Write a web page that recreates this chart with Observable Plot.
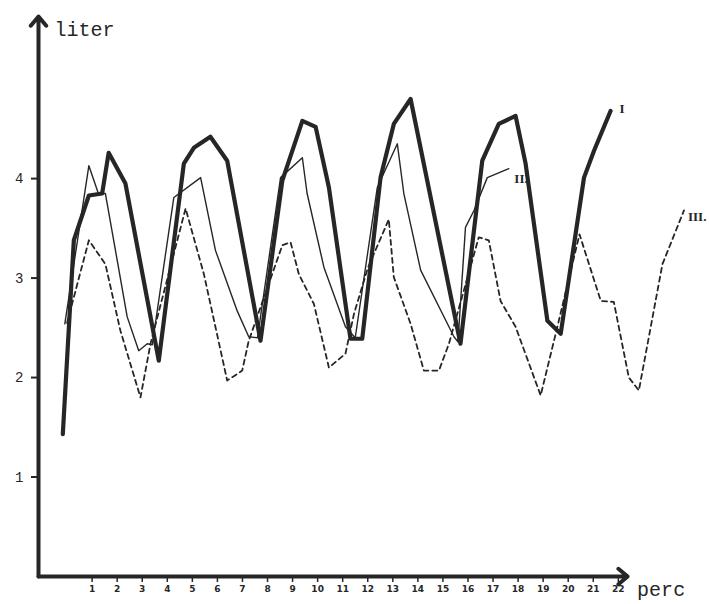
<!DOCTYPE html>
<html>
<head>
<meta charset="utf-8">
<script src="https://cdn.jsdelivr.net/npm/d3@7"></script>
<script src="https://cdn.jsdelivr.net/npm/@observablehq/plot@0.6"></script>
<style>
  html, body { margin: 0; padding: 0; background: #ffffff; }
  #chart svg { display: block; }
</style>
</head>
<body>
<div id="chart"></div>
<script>
// Series I (thick solid line): minutes and liters
const minutesI = [-0.17, 0.27, 0.87, 1.40, 1.66, 2.33, 3.66, 4.66, 5.06, 5.72, 6.39, 7.72, 8.59, 9.39, 9.92, 10.45, 11.31, 11.78, 12.51, 13.04, 13.71, 15.70, 16.57, 17.23, 17.90, 18.30, 19.17, 19.70, 20.63, 21.03, 21.69];
const litersI  = [1.43, 3.38, 3.83, 3.85, 4.26, 3.95, 2.17, 4.15, 4.31, 4.42, 4.18, 2.37, 3.98, 4.58, 4.52, 3.91, 2.39, 2.39, 4.01, 4.55, 4.80, 2.34, 4.18, 4.55, 4.63, 4.15, 2.57, 2.44, 4.01, 4.28, 4.68];

// Series II (thin solid line)
const minutesII = [-0.09, 0.87, 1.25, 1.53, 2.40, 2.86, 3.20, 3.40, 4.26, 5.33, 5.92, 6.79, 7.25, 7.60, 8.52, 9.39, 9.58, 10.25, 11.11, 11.50, 12.38, 13.18, 13.44, 14.11, 15.44, 15.60, 15.90, 16.24, 16.77, 17.63];
const litersII  = [2.54, 4.13, 3.85, 3.85, 2.61, 2.27, 2.34, 2.33, 3.81, 4.01, 3.28, 2.67, 2.41, 2.40, 4.01, 4.21, 3.85, 3.11, 2.51, 2.40, 3.91, 4.35, 3.85, 3.08, 2.41, 2.36, 3.51, 3.68, 4.01, 4.10];

// Series III (dashed line)
const minutesIII = [0.00, 0.87, 1.53, 2.13, 2.93, 3.33, 4.73, 5.46, 6.39, 6.99, 7.25, 8.59, 8.92, 9.25, 9.85, 10.45, 11.11, 11.45, 12.00, 12.84, 13.04, 13.71, 14.24, 14.84, 15.24, 16.43, 16.83, 17.30, 17.90, 18.90, 19.50, 20.45, 21.30, 21.82, 22.42, 22.82, 23.76, 24.62];
const litersIII  = [2.55, 3.38, 3.14, 2.47, 1.80, 2.34, 3.70, 3.04, 1.97, 2.07, 2.37, 3.33, 3.36, 3.04, 2.74, 2.10, 2.24, 2.64, 3.10, 3.59, 3.01, 2.54, 2.07, 2.07, 2.34, 3.41, 3.38, 2.77, 2.51, 1.82, 2.44, 3.44, 2.77, 2.76, 2.00, 1.87, 3.14, 3.68];

// Tick labels
const xTicks = [1,2,3,4,5,6,7,8,9,10,11,12,13,14,15,16,17,18,19,20,21,22];
const yTicks = [1,2,3,4];

// Series labels
const seriesLabels = ["I", "II.", "III."];
const seriesLabelX = [22.05, 17.85, 24.78];
const seriesLabelY = [4.70, 4.00, 3.62];

// Axis titles
const axisTitles = ["liter", "perc"];
const axisTitleX = [-0.50, 22.75];
const axisTitleY = [5.50, -0.13];

// Scale extents
const xDomain = [-1.14, 25.0];
const yDomain = [0, 5.69];
const xAxisEnd = 22.37;
const yAxisEnd = 5.63;

const ink = "#262626";

const toRows = (xs, ys) => xs.map((x, i) => ({x, y: ys[i]}));
const rowsI = toRows(minutesI, litersI);
const rowsII = toRows(minutesII, litersII);
const rowsIII = toRows(minutesIII, litersIII);

const chart = Plot.plot({
  width: 709,
  height: 604,
  marginLeft: 38,
  marginRight: 16,
  marginTop: 10,
  marginBottom: 28,
  x: {domain: xDomain},
  y: {domain: yDomain},
  style: {background: "#ffffff", color: ink, fontFamily: "Liberation Mono, DejaVu Sans Mono, monospace"},
  marks: [
    Plot.axisY(yTicks, {tickSize: 7, tickPadding: 8, fontSize: 14, label: null, tickFormat: d => String(d), strokeWidth: 2, stroke: ink, fill: ink}),
    Plot.axisX(xTicks, {tickSize: 6, tickPadding: 3, fontSize: 9, label: null, tickFormat: d => String(d), strokeWidth: 1.5, stroke: ink, fill: ink, fontFamily: "DejaVu Sans", fontWeight: "bold"}),
    Plot.arrow([0], {x1: xDomain[0], y1: yDomain[0], x2: xDomain[0], y2: yAxisEnd, stroke: ink, strokeWidth: 4, headLength: 4.5, headAngle: 80}),
    Plot.arrow([0], {x1: xDomain[0], y1: yDomain[0], x2: xAxisEnd, y2: yDomain[0], stroke: ink, strokeWidth: 4, headLength: 4.5, headAngle: 80}),
    Plot.line(rowsIII, {x: "x", y: "y", stroke: ink, strokeWidth: 1.8, strokeDasharray: "5,4", strokeLinejoin: "round"}),
    Plot.line(rowsII, {x: "x", y: "y", stroke: ink, strokeWidth: 1.4, strokeLinejoin: "round"}),
    Plot.line(rowsI, {x: "x", y: "y", stroke: ink, strokeWidth: 4.2, strokeLinejoin: "round", strokeLinecap: "round"}),
    Plot.text(seriesLabels, {x: (d, i) => seriesLabelX[i], y: (d, i) => seriesLabelY[i], text: d => d, textAnchor: "start", fontSize: 13, fontWeight: "bold", fontFamily: "Liberation Serif", fill: ink}),
    Plot.text(axisTitles, {x: (d, i) => axisTitleX[i], y: (d, i) => axisTitleY[i], text: d => d, textAnchor: "start", fontSize: 20, fontWeight: (d, i) => i === 0 ? "bold" : "normal", fill: ink})
  ]
});

document.getElementById("chart").appendChild(chart);
</script>
</body>
</html>
